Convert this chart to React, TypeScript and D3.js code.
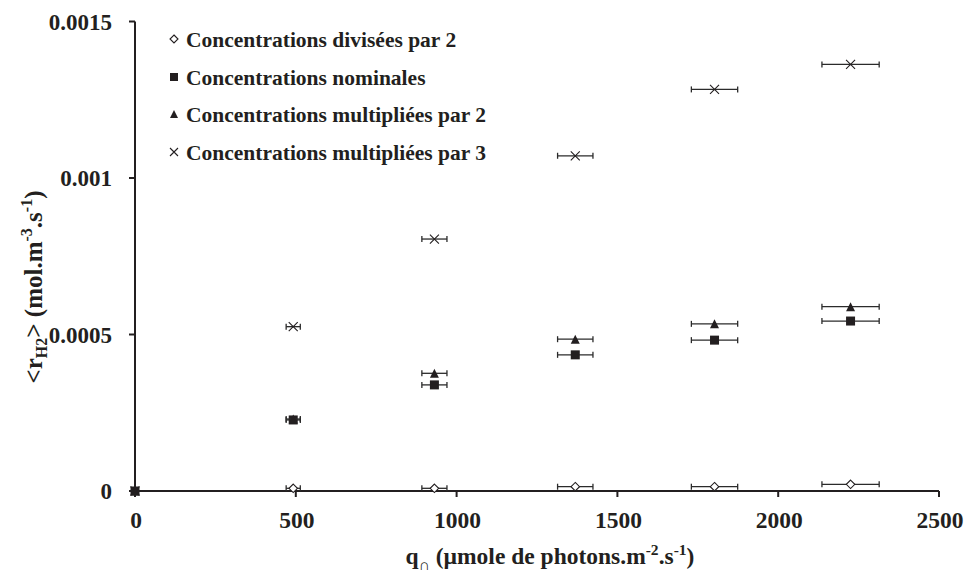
import React from "react";
import * as d3 from "d3";

const qValues = [0, 492, 931, 1369, 1802, 2225];
const qErrors = [0, 22, 39, 55, 72, 89];
const dividedBy2 = [0, 0.0000086, 0.0000086, 0.0000137, 0.0000137, 0.0000214];
const nominal = [0, 0.000227, 0.000339, 0.000435, 0.000482, 0.000543];
const multipliedBy2 = [0, 0.00023, 0.000376, 0.000485, 0.000534, 0.000589];
const multipliedBy3 = [0, 0.000525, 0.000805, 0.001071, 0.001283, 0.001363];

const xTicks = [0, 500, 1000, 1500, 2000, 2500];
const yTicks = [0, 0.0005, 0.001, 0.0015];
const yTickLabels = ["0", "0.0005", "0.001", "0.0015"];

const seriesNames = [
  "Concentrations divisées par 2",
  "Concentrations nominales",
  "Concentrations multipliées par 2",
  "Concentrations multipliées par 3",
];
const seriesMarkers = ["diamond", "square", "triangle", "cross"];

const W = 964;
const H = 572;
const INK = "#231f20";
const FONT = "'Liberation Serif', 'Times New Roman', serif";

function Marker({ kind, x, y, s }: { kind: string; x: number; y: number; s: number }) {
  const h = s / 2;
  if (kind === "square") {
    return <rect x={x - h} y={y - h} width={s} height={s} fill={INK} />;
  }
  if (kind === "triangle") {
    return <path d={`M${x},${y - h}L${x + h},${y + h}L${x - h},${y + h}Z`} fill={INK} />;
  }
  if (kind === "diamond") {
    return (
      <path
        d={`M${x},${y - h}L${x + h},${y}L${x},${y + h}L${x - h},${y}Z`}
        fill="#fff"
        stroke={INK}
        strokeWidth={1.1}
      />
    );
  }
  return (
    <path
      d={`M${x - h},${y - h}L${x + h},${y + h}M${x + h},${y - h}L${x - h},${y + h}`}
      stroke={INK}
      strokeWidth={1.1}
      fill="none"
    />
  );
}

export default function App() {
  const x = d3.scaleLinear().domain([0, 2500]).range([135, 939]);
  const y = d3.scaleLinear().domain([0, 0.0015]).range([491, 21.5]);
  const series = [dividedBy2, nominal, multipliedBy2, multipliedBy3];

  const legendBaselines = [47, 85, 122, 160];

  return (
    <svg
      width={W}
      height={H}
      style={{ position: "absolute", left: 0, top: 0, background: "#fff" }}
      fontFamily={FONT}
      fontWeight="bold"
    >
      <rect width={W} height={H} fill="#fff" />
      {/* axes */}
      <line x1={x(0)} x2={x(0)} y1={y(0.0015)} y2={y(0) + 1} stroke={INK} strokeWidth={2} />
      <line x1={x(0) - 1} x2={x(2500)} y1={y(0)} y2={y(0)} stroke={INK} strokeWidth={2} />
      {yTicks.map((t, i) => (
        <g key={"yt" + i}>
          <line x1={x(0) - 6} x2={x(0)} y1={y(t)} y2={y(t)} stroke={INK} strokeWidth={2} />
          <text x={112} y={y(t)} dy="0.35em" textAnchor="end" fontSize={23} fill={INK}>
            {yTickLabels[i]}
          </text>
        </g>
      ))}
      {xTicks.map((t, i) => (
        <g key={"xt" + i}>
          <line x1={x(t)} x2={x(t)} y1={y(0)} y2={y(0) + 6} stroke={INK} strokeWidth={2} />
          <text x={x(t) + 1} y={528} textAnchor="middle" fontSize={23.5} fill={INK}>
            {String(t)}
          </text>
        </g>
      ))}
      {/* axis titles */}
      <text x={550} y={564} textAnchor="middle" fontSize={23.5} fill={INK}>
        q<tspan fontSize={15.5} dy={6}>∩</tspan>
        <tspan dy={-6}> (µmole de photons.m</tspan>
        <tspan fontSize={15.5} dy={-9}>-2</tspan>
        <tspan dy={9}>.s</tspan>
        <tspan fontSize={15.5} dy={-9}>-1</tspan>
        <tspan dy={9}>)</tspan>
      </text>
      <text
        transform={`translate(42,287) rotate(-90)`}
        textAnchor="middle"
        fontSize={25}
        fill={INK}
      >
        {"<r"}
        <tspan fontSize={16} dy={5}>H2</tspan>
        <tspan dy={-5}>{"> (mol.m"}</tspan>
        <tspan fontSize={16} dy={-10}>-3</tspan>
        <tspan dy={10}>.s</tspan>
        <tspan fontSize={16} dy={-10}>-1</tspan>
        <tspan dy={10}>)</tspan>
      </text>
      {/* data */}
      {series.map((vals, si) => (
        <g key={"s" + si}>
          {vals.map((v, i) => {
            const cy = y(v);
            const x0 = x(qValues[i] - qErrors[i]);
            const x1 = x(qValues[i] + qErrors[i]);
            return (
              <g key={i}>
                {qErrors[i] > 0 && (
                  <g stroke="#2b2b2b" strokeWidth={1.3}>
                    <line x1={x0} x2={x1} y1={cy} y2={cy} />
                    <line x1={x0} x2={x0} y1={cy - 3} y2={cy + 3} />
                    <line x1={x1} x2={x1} y1={cy - 3} y2={cy + 3} />
                  </g>
                )}
              </g>
            );
          })}
          {vals.map((v, i) => (
            <Marker
              key={"m" + i}
              kind={seriesMarkers[si]}
              x={x(qValues[i])}
              y={y(v)}
              s={seriesMarkers[si] === "diamond" ? 8.5 : 9}
            />
          ))}
        </g>
      ))}
      {/* legend */}
      {seriesNames.map((name, i) => (
        <g key={"lg" + i}>
          <Marker kind={seriesMarkers[i]} x={174} y={legendBaselines[i] - 8} s={8} />
          <text x={186} y={legendBaselines[i]} fontSize={21.5} fill={INK}>
            {name}
          </text>
        </g>
      ))}
    </svg>
  );
}
